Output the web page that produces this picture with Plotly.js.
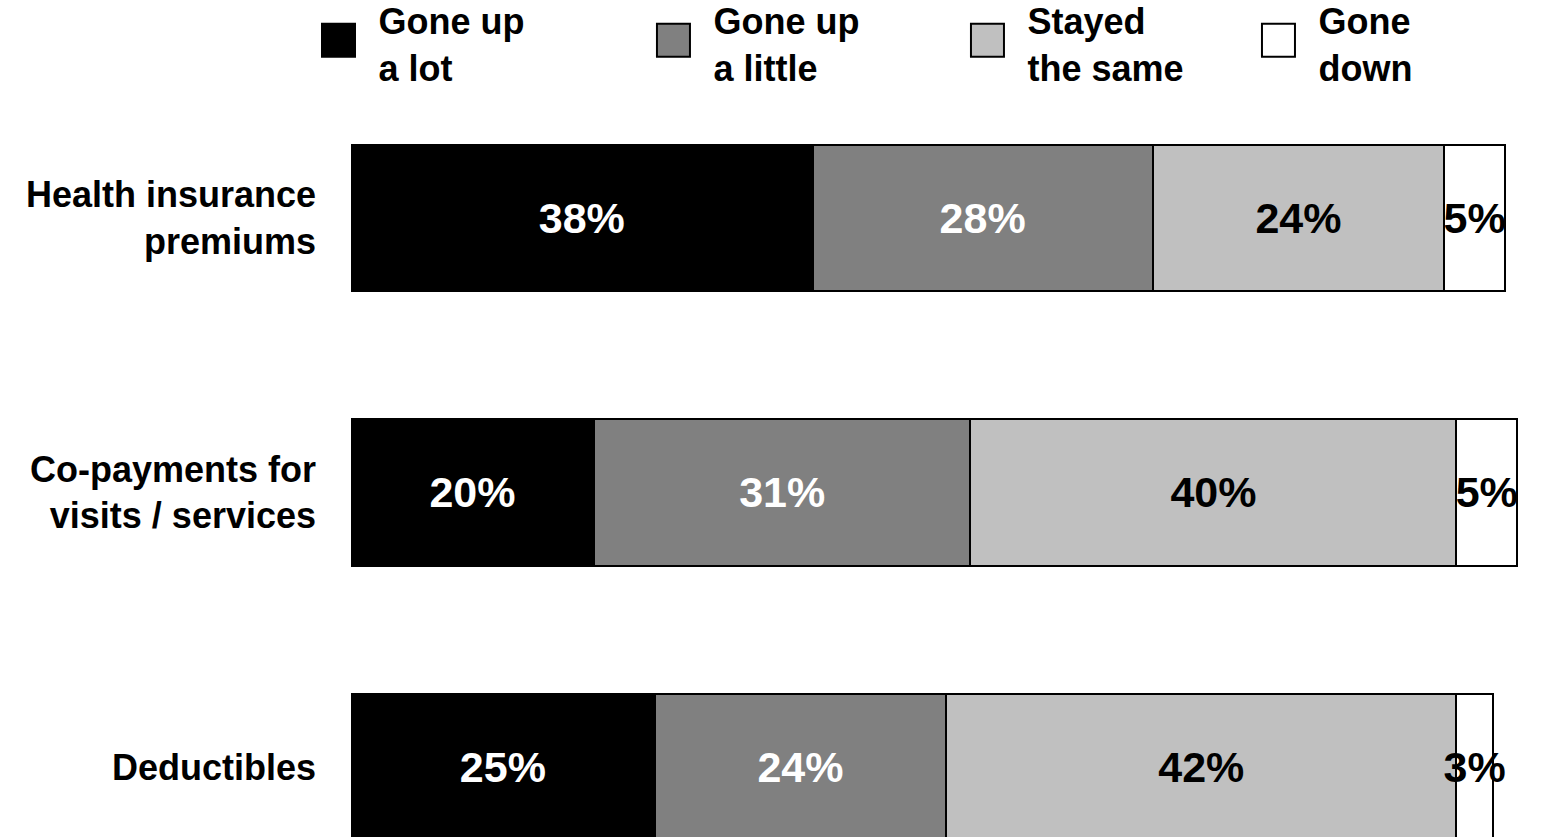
<!DOCTYPE html>
<html><head><meta charset="utf-8">
<script src="https://cdn.plot.ly/plotly-3.0.1.min.js"></script>
<style>html,body{margin:0;padding:0;background:#fff;} #chart{width:1555px;height:837px;}</style>
</head><body><div id="chart"></div>
<script>
// ---- data ----
const categories = ['Health insurance<br>premiums', 'Co-payments for<br>visits / services', 'Deductibles'];
const seriesNames = ['Gone up<br>a lot', 'Gone up<br>a little', 'Stayed<br>the same', 'Gone<br>down'];
const goneUpALot = [38, 20, 25];
const goneUpALittle = [28, 31, 24];
const stayedTheSame = [24, 40, 42];
const goneDown = [5, 5, 3];

// ---- style ----
const seriesValues = [goneUpALot, goneUpALittle, stayedTheSame, goneDown];
const fillColors = ['#000000', '#808080', '#C0C0C0', '#FFFFFF'];
const textColors = ['#FFFFFF', '#FFFFFF', '#000000', '#000000'];
const legendIds = ['legend', 'legend2', 'legend3', 'legend4'];
const FONT = 'Liberation Sans, Arial, Helvetica, sans-serif';

const traces = seriesValues.map((vals, i) => ({
  type: 'bar',
  orientation: 'h',
  name: seriesNames[i],
  y: categories,
  x: vals,
  width: 0.532,
  marker: {color: fillColors[i], line: {color: '#000000', width: 2}},
  text: vals.map(v => v + '%'),
  textposition: 'inside',
  insidetextanchor: 'middle',
  constraintext: 'none',
  textangle: 0,
  textfont: {family: FONT, size: 43, weight: 700, color: textColors[i]},
  cliponaxis: false,
  legend: legendIds[i],
  hoverinfo: 'none'
}));

function legendBox(xp) {
  return {
    x: xp, xanchor: 'left', xref: 'paper',
    y: 1.012, yanchor: 'top', yref: 'paper',
    orientation: 'v',
    itemwidth: 70,
    bgcolor: 'rgba(0,0,0,0)', borderwidth: 0,
    font: {family: FONT, size: 36, weight: 700, color: '#000000'}
  };
}

const layout = {
  width: 1555, height: 837,
  margin: {l: 351, r: 0, t: 0, b: 0, pad: 0, autoexpand: false},
  paper_bgcolor: '#FFFFFF', plot_bgcolor: '#FFFFFF',
  barmode: 'stack',
  showlegend: true,
  legend: legendBox(-0.0436),
  legend2: legendBox(0.2346),
  legend3: legendBox(0.4954),
  legend4: legendBox(0.7371),
  xaxis: {range: [0, 99.12], showgrid: false, zeroline: false, showline: false, showticklabels: false, ticks: '', fixedrange: true},
  yaxis: {type: 'category', range: [2.255, -0.794], showgrid: false, zeroline: false, showline: false, ticks: '',
          ticklabelstandoff: 34,
          tickfont: {family: FONT, size: 36, weight: 700, color: '#000000'}, fixedrange: true},
  font: {family: FONT}
};

Plotly.newPlot('chart', traces, layout, {displayModeBar: false, staticPlot: true}).then(function () {
  document.querySelectorAll('g.legendpoints path').forEach(function (p) {
    p.setAttribute('d', 'M16.5,13.5H-16.5V-19.5H16.5Z');
    p.style.strokeWidth = '2px';
  });
});
</script>
</body></html>
